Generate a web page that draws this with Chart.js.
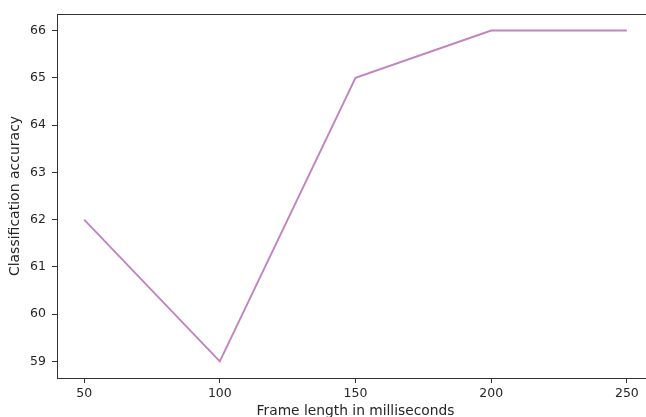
<!DOCTYPE html>
<html>
<head>
<meta charset="utf-8">
<script src="https://cdn.jsdelivr.net/npm/chart.js@4.4.1/dist/chart.umd.min.js"></script>
<style>
html,body{margin:0;padding:0;background:#fff;overflow:hidden;}
#wrap{width:646px;height:417px;overflow:hidden;position:relative;}
#box{width:662px;height:420px;position:absolute;left:0;top:0;}
</style>
</head>
<body>
<div id="wrap"><div id="box"><canvas id="c"></canvas></div></div>
<script>
const frameLengths = [50, 100, 150, 200, 250];
const accuracy = [62, 59, 65, 66, 66];
const xTicks = [50, 100, 150, 200, 250];
const yTicks = [59, 60, 61, 62, 63, 64, 65, 66];

const FONT = "'DejaVu Sans', sans-serif";

const framePlugin = {
  id: 'frame',
  afterDraw(chart) {
    const a = chart.chartArea, ctx = chart.ctx;
    ctx.save();
    ctx.strokeStyle = '#333';
    ctx.lineWidth = 1;
    ctx.strokeRect(Math.round(a.left) + 0.5, Math.round(a.top) + 0.5,
      Math.round(a.right - a.left), Math.round(a.bottom - a.top));
    ctx.restore();
  }
};

new Chart(document.getElementById('c'), {
  type: 'line',
  data: {
    datasets: [{
      data: frameLengths.map((x, i) => ({x: x, y: accuracy[i]})),
      borderColor: '#c084c0',
      borderWidth: 1.9,
      pointRadius: 0,
      tension: 0,
      fill: false
    }]
  },
  options: {
    responsive: true,
    maintainAspectRatio: false,
    animation: false,
    layout: {padding: {top: 14, right: 8, left: 0, bottom: 0}},
    plugins: {legend: {display: false}, tooltip: {enabled: false}},
    scales: {
      x: {
        type: 'linear',
        min: 40, max: 260,
        afterBuildTicks(s) { s.ticks = xTicks.map(v => ({value: v})); },
        afterFit(s) { s.height = 42; },
        grid: {drawOnChartArea: false, drawTicks: true, tickLength: 5, tickColor: '#333'},
        border: {display: true, color: '#333', width: 1},
        ticks: {color: '#262626', font: {family: FONT, size: 12.5}, padding: 3, maxRotation: 0},
        title: {display: true, text: 'Frame length in milliseconds', color: '#262626',
          font: {family: FONT, size: 13.8}, padding: {top: 1, bottom: 0}}
      },
      y: {
        type: 'linear',
        min: 58.65, max: 66.35,
        afterBuildTicks(s) { s.ticks = yTicks.map(v => ({value: v})); },
        afterFit(s) { s.width = 57; },
        grid: {drawOnChartArea: false, drawTicks: true, tickLength: 5, tickColor: '#333'},
        border: {display: true, color: '#333', width: 1},
        ticks: {color: '#262626', font: {family: FONT, size: 12.5}, padding: 6},
        title: {display: true, text: 'Classification accuracy', color: '#262626',
          font: {family: FONT, size: 14}, padding: {top: 6.6, bottom: 0}}
      }
    }
  },
  plugins: [framePlugin]
});
</script>
</body>
</html>
